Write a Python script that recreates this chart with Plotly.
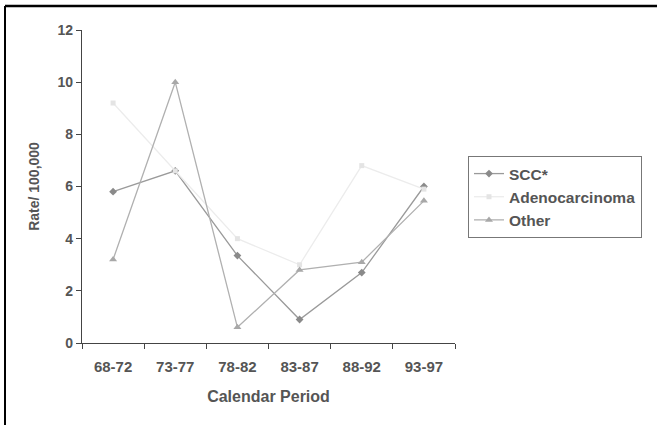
import plotly.graph_objects as go

periods = ["68-72", "73-77", "78-82", "83-87", "88-92", "93-97"]
scc = [5.8, 6.6, 3.35, 0.9, 2.7, 6.0]
adeno = [9.2, 6.6, 4.0, 3.0, 6.8, 5.9]
other = [3.2, 10.0, 0.6, 2.8, 3.1, 5.45]
y_ticks = [0, 2, 4, 6, 8, 10, 12]

W, H = 657, 425
L, R, T, B = 82, 202, 30, 82
pw, ph = W - L - R, H - T - B

def px_x(p):
    return (p - L) / pw

def px_y(p):
    return (H - B - p) / ph

font_fam = "Liberation Sans, Arial, sans-serif"
txt = "#555555"

fig = go.Figure()
fig.add_trace(go.Scatter(
    x=periods, y=scc, name="SCC*", mode="lines+markers",
    line=dict(color="#9a9a9a", width=1.3),
    marker=dict(symbol="diamond", size=6, color="#8a8a8a"),
))
fig.add_trace(go.Scatter(
    x=periods, y=adeno, name="Adenocarcinoma", mode="lines+markers",
    line=dict(color="#ececec", width=1.3),
    marker=dict(symbol="square", size=5, color="#e4e4e4"),
))
fig.add_trace(go.Scatter(
    x=periods, y=other, name="Other", mode="lines+markers",
    line=dict(color="#b0b0b0", width=1.3),
    marker=dict(symbol="triangle-up", size=7, color="#a8a8a8"),
))

fig.update_layout(
    width=W, height=H,
    margin=dict(l=L, r=R, t=T, b=B, pad=0),
    paper_bgcolor="white", plot_bgcolor="white",
    font=dict(family=font_fam, size=15, color=txt, weight="bold"),
    showlegend=True,
    legend=dict(
        x=px_x(468), y=px_y(156), xanchor="left", yanchor="top",
        bordercolor="#777777", borderwidth=1, bgcolor="white",
        font=dict(family=font_fam, size=15.5, color=txt, weight="bold"),
        itemwidth=30, tracegroupgap=0,
    ),
    xaxis=dict(
        type="category", range=[-0.5, 5.5],
        showline=True, linecolor="#444444", linewidth=1.3,
        ticks="outside", tickson="boundaries", ticklen=5, tickcolor="#444444",
        showgrid=False, zeroline=False,
        ticklabelstandoff=10,
        tickfont=dict(size=15, color=txt, weight="bold"),
        title=dict(text="Calendar Period", standoff=16,
                   font=dict(size=16, color=txt, weight="bold")),
    ),
    yaxis=dict(
        range=[0, 12], tickvals=y_ticks,
        showline=True, linecolor="#444444", linewidth=1.3,
        ticks="outside", ticklen=5, tickcolor="#444444",
        showgrid=False, zeroline=False,
        tickfont=dict(size=14, color=txt, weight="bold"),
        title=dict(text="Rate/ 100,000", standoff=14,
                   font=dict(size=14, color=txt, weight="bold")),
    ),
    shapes=[
        dict(type="line", xref="paper", yref="paper",
             x0=px_x(5), x1=px_x(W + 5), y0=px_y(6), y1=px_y(6),
             line=dict(color="black", width=2.5)),
        dict(type="line", xref="paper", yref="paper",
             x0=px_x(5), x1=px_x(5), y0=px_y(6), y1=px_y(H + 5),
             line=dict(color="black", width=2)),
    ],
)

fig.write_html("out.html", config={"displayModeBar": False},
               post_script="document.body.style.margin='0';document.body.style.overflow='hidden';")
